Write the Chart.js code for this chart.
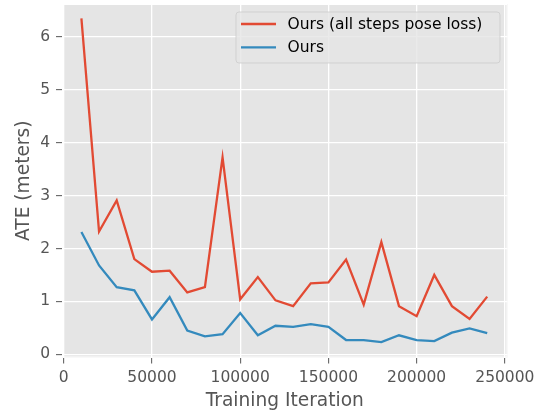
<!DOCTYPE html>
<html>
<head>
<meta charset="utf-8">
<script src="https://cdn.jsdelivr.net/npm/chart.js@4/dist/chart.umd.min.js"></script>
<style>
html,body{margin:0;padding:0;background:#fff;}
#wrap{width:542px;height:413px;}
</style>
</head>
<body>
<div id="wrap"><canvas id="c" width="542" height="413"></canvas></div>
<script>
const iterations = [10000,20000,30000,40000,50000,60000,70000,80000,90000,100000,110000,120000,130000,140000,150000,160000,170000,180000,190000,200000,210000,220000,230000,240000];
const oursAllSteps = [6.35,2.32,2.91,1.80,1.56,1.58,1.17,1.27,3.72,1.04,1.46,1.02,0.91,1.34,1.36,1.79,0.94,2.12,0.91,0.72,1.50,0.91,0.67,1.09];
const ours = [2.31,1.68,1.27,1.21,0.66,1.08,0.45,0.34,0.38,0.78,0.36,0.54,0.52,0.57,0.52,0.27,0.27,0.23,0.36,0.27,0.25,0.41,0.49,0.40];
const xTicks = [0,50000,100000,150000,200000,250000];
const yTicks = [0,1,2,3,4,5,6];
const seriesLabels = ["Ours (all steps pose loss)", "Ours"];
const xLabel = "Training Iteration";
const yLabel = "ATE (meters)";

const FONT = "'DejaVu Sans', sans-serif";
const toPts = ys => iterations.map((x,i)=>({x:x,y:ys[i]}));

const bgPlugin = {
  id:'bgPlugin',
  beforeDraw(chart){
    const {ctx, chartArea:a} = chart;
    ctx.save();
    ctx.fillStyle = '#E5E5E5';
    ctx.fillRect(a.left, a.top, a.right-a.left, a.bottom-a.top);
    ctx.restore();
  },
  afterDatasetsDraw(chart){
    const {ctx, chartArea:a} = chart;
    ctx.save();
    ctx.strokeStyle = '#FFFFFF';
    ctx.lineWidth = 1;
    ctx.strokeRect(a.left+0.5, a.top+0.5, a.right-a.left-1, a.bottom-a.top-1);
    const x0 = 236, y0 = 12, w = 264, h = 51, r = 3;
    ctx.beginPath();
    ctx.moveTo(x0+r,y0);
    ctx.lineTo(x0+w-r,y0); ctx.quadraticCurveTo(x0+w,y0,x0+w,y0+r);
    ctx.lineTo(x0+w,y0+h-r); ctx.quadraticCurveTo(x0+w,y0+h,x0+w-r,y0+h);
    ctx.lineTo(x0+r,y0+h); ctx.quadraticCurveTo(x0,y0+h,x0,y0+h-r);
    ctx.lineTo(x0,y0+r); ctx.quadraticCurveTo(x0,y0,x0+r,y0);
    ctx.closePath();
    ctx.fillStyle = 'rgba(229,229,229,0.8)';
    ctx.fill();
    ctx.strokeStyle = 'rgba(204,204,204,0.8)';
    ctx.lineWidth = 1;
    ctx.stroke();
    const rows = [24, 47.3];
    chart.data.datasets.forEach((ds,i)=>{
      ctx.strokeStyle = ds.borderColor;
      ctx.lineWidth = 2.3;
      ctx.beginPath();
      ctx.moveTo(241, rows[i]); ctx.lineTo(276, rows[i]);
      ctx.stroke();
      ctx.fillStyle = '#000';
      ctx.font = "15.5px " + FONT;
      ctx.textBaseline = 'middle';
      ctx.textAlign = 'left';
      ctx.fillText(ds.label, 287.5, rows[i]+0.5);
    });
    ctx.restore();
  }
};

function zeroPad(s){ s.paddingTop=0; s.paddingBottom=0; s.paddingLeft=0; s.paddingRight=0; }

new Chart(document.getElementById('c'), {
  type:'line',
  data:{
    datasets:[
      {label:seriesLabels[0], data:toPts(oursAllSteps), borderColor:'#E24A33', backgroundColor:'#E24A33', borderWidth:2.3, pointRadius:0, tension:0, fill:false},
      {label:seriesLabels[1], data:toPts(ours), borderColor:'#348ABD', backgroundColor:'#348ABD', borderWidth:2.3, pointRadius:0, tension:0, fill:false}
    ]
  },
  options:{
    responsive:false,
    animation:false,
    devicePixelRatio:1,
    layout:{padding:{top:4,right:34.5,left:0,bottom:0}},
    plugins:{legend:{display:false}, tooltip:{enabled:false}},
    scales:{
      x:{
        type:'linear', min:-1000, max:251500,
        afterBuildTicks(s){ s.ticks = xTicks.map(v=>({value:v})); },
        afterFit(s){ s.height = 55.5; zeroPad(s); },
        ticks:{color:'#555555', font:{family:FONT,size:15.5}, padding:5, maxRotation:0, autoSkip:false,
          callback:v=>String(v)},
        grid:{color:'#FFFFFF', lineWidth:1.3, drawTicks:true, tickLength:6, tickColor:'#555555', tickWidth:1},
        border:{display:false},
        title:{display:true, text:xLabel, color:'#555555', font:{family:FONT,size:18.6}, padding:{top:0,bottom:1}}
      },
      y:{
        type:'linear', min:-0.06, max:6.62,
        afterBuildTicks(s){ s.ticks = yTicks.map(v=>({value:v})); },
        afterFit(s){ s.width = 62; zeroPad(s); },
        ticks:{color:'#555555', font:{family:FONT,size:15.5}, padding:6,
          callback:v=>String(v)},
        grid:{color:'#FFFFFF', lineWidth:1.3, drawTicks:true, tickLength:6, tickColor:'#555555', tickWidth:1},
        border:{display:false},
        title:{display:true, text:yLabel, color:'#555555', font:{family:FONT,size:18.6}, padding:{top:13.5,bottom:0}}
      }
    }
  },
  plugins:[bgPlugin]
});
</script>
</body>
</html>
